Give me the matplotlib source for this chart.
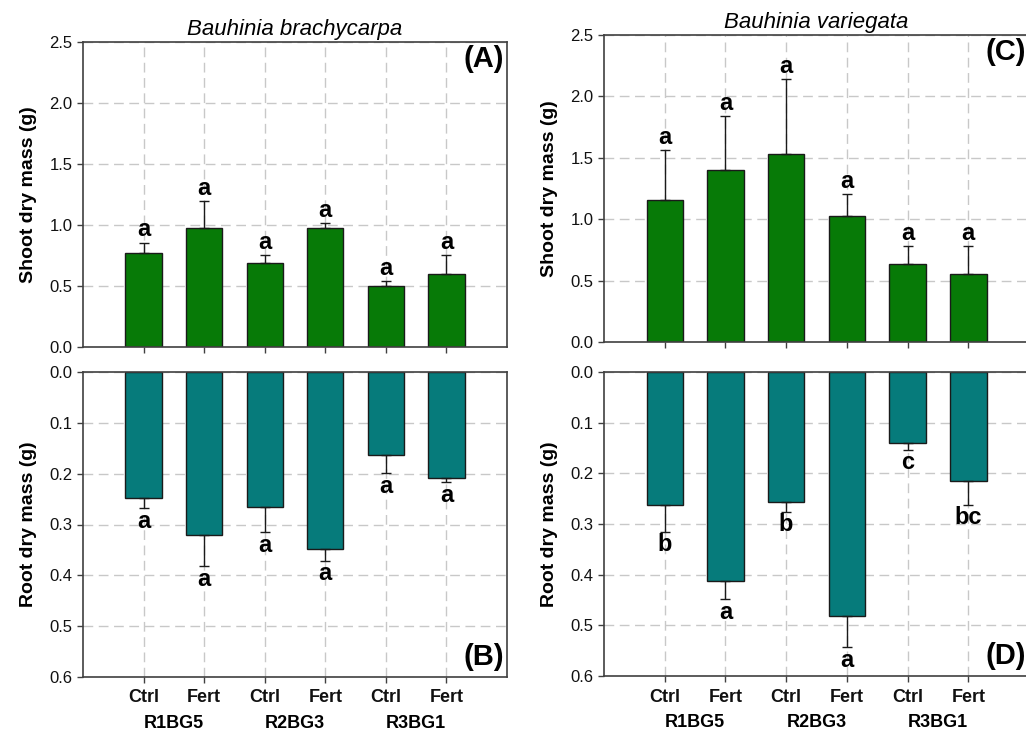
import matplotlib

matplotlib.use("Agg")
import matplotlib.pyplot as plt
import numpy as np

plt.rcParams["font.family"] = ["Liberation Sans", "DejaVu Sans"]

treatments = ["Ctrl", "Fert", "Ctrl", "Fert", "Ctrl", "Fert"]
groups = ["R1BG5", "R2BG3", "R3BG1"]

# B. brachycarpa
shoot_brachy = [0.774, 0.976, 0.692, 0.976, 0.504, 0.600]
shoot_brachy_err = [0.082, 0.218, 0.063, 0.041, 0.033, 0.152]
shoot_brachy_let = ["a", "a", "a", "a", "a", "a"]
root_brachy = [0.248, 0.321, 0.266, 0.349, 0.164, 0.209]
root_brachy_err = [0.020, 0.061, 0.049, 0.022, 0.035, 0.008]
root_brachy_let = ["a", "a", "a", "a", "a", "a"]

# B. variegata
shoot_varieg = [1.156, 1.401, 1.535, 1.022, 0.635, 0.556]
shoot_varieg_err = [0.406, 0.436, 0.605, 0.180, 0.147, 0.226]
shoot_varieg_let = ["a", "a", "a", "a", "a", "a"]
root_varieg = [0.262, 0.412, 0.256, 0.481, 0.140, 0.216]
root_varieg_err = [0.054, 0.037, 0.020, 0.062, 0.013, 0.046]
root_varieg_let = ["b", "a", "b", "a", "c", "bc"]

GREEN = "#077a07"
TEAL = "#067b7b"
SPINE = "#404040"


def style(ax, yticks):
    ax.set_xlim(0, 7)
    ax.set_xticks(np.arange(1, 7))
    ax.set_yticks(yticks)
    ax.yaxis.set_major_formatter(matplotlib.ticker.FormatStrFormatter("%.1f"))
    ax.grid(True, color="#c8c8c8", ls=(0, (7, 4)), lw=1.0)
    ax.set_axisbelow(True)
    for s in ax.spines.values():
        s.set_color(SPINE)
        s.set_linewidth(1.2)
    ax.tick_params(direction="out", length=4, width=1, color=SPINE,
                   labelsize=12, labelcolor="#111111")


def draw(ax, vals, errs, letters, color, root=False):
    x = np.arange(1, 7)
    ax.bar(x, vals, width=0.6, color=color, edgecolor="#1a1a1a", lw=1.0, zorder=2)
    ax.errorbar(x, vals, yerr=[np.zeros(6), errs], fmt="none", ecolor="#1a1a1a",
                elinewidth=1.0, capsize=3.5, capthick=1.0, zorder=3)
    for xi, v, e, t in zip(x, vals, errs, letters):
        ax.annotate(t, (xi, v + e), xytext=(0, -1 if root else 1), textcoords="offset points",
                    ha="center", va="top" if root else "bottom",
                    fontsize=17, fontweight="bold", zorder=4)


fig = plt.figure(figsize=(10.26, 7.33), dpi=100)
W, H = 1026, 733


def axes_px(left, top, right, bottom):
    return fig.add_axes([left / W, 1 - bottom / H, (right - left) / W, (bottom - top) / H])


panels = [
    (axes_px(83, 42, 507, 347), axes_px(83, 372, 507, 677),
     "Bauhinia brachycarpa", shoot_brachy, shoot_brachy_err, shoot_brachy_let,
     root_brachy, root_brachy_err, root_brachy_let, "(A)", "(B)"),
    (axes_px(604, 35, 1029, 342), axes_px(604, 372, 1029, 676),
     "Bauhinia variegata", shoot_varieg, shoot_varieg_err, shoot_varieg_let,
     root_varieg, root_varieg_err, root_varieg_let, "(C)", "(D)"),
]

for ax_s, ax_r, title, sv, se, sl, rv, re_, rl, lab_s, lab_r in panels:
    style(ax_s, np.arange(0, 2.51, 0.5))
    draw(ax_s, sv, se, sl, GREEN)
    ax_s.set_ylim(0, 2.5)
    ax_s.set_xticklabels([])
    ax_s.set_title(title, fontsize=16, style="italic", pad=5)
    ax_s.set_ylabel("Shoot dry mass (g)", fontsize=14, fontweight="bold", labelpad=9)
    ax_s.text(0.993, 0.945, lab_s, transform=ax_s.transAxes, ha="right", va="center",
              fontsize=21, fontweight="bold")

    style(ax_r, np.arange(0, 0.61, 0.1))
    draw(ax_r, rv, re_, rl, TEAL, root=True)
    ax_r.set_ylim(0.6, 0)
    ax_r.set_xticklabels(treatments, fontsize=13, fontweight="bold")
    ax_r.tick_params(axis="x", pad=5)
    ax_r.set_ylabel("Root dry mass (g)", fontsize=14, fontweight="bold", labelpad=9)
    ax_r.text(0.993, 0.065, lab_r, transform=ax_r.transAxes, ha="right", va="center",
              fontsize=21, fontweight="bold")
    for i, g in enumerate(groups):
        ax_r.text(1.5 + 2 * i, -0.152, g, transform=ax_r.get_xaxis_transform(),
                  ha="center", va="center", fontsize=13, fontweight="bold")

fig.savefig("out.png", dpi=100)
